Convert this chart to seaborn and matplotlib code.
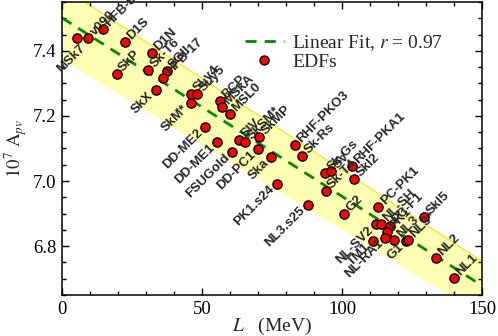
import numpy as np
import pandas as pd
import matplotlib
matplotlib.use("Agg")
import matplotlib.pyplot as plt
import seaborn as sns
from matplotlib.ticker import MultipleLocator
from matplotlib.lines import Line2D

# ---------------- data ----------------
names = ["MSk7", "v090", "HFB-8", "D1S", "D1N", "SkP", "Sk-T6", "SkX", "SGII", "HFB-17",
         "SLy4", "SLy5", "SkM*", "BCP", "MSkA", "MSL0", "DD-ME2", "DD-ME1", "SIV", "SkSM*",
         "SkMP", "FSUGold", "DD-PC1", "Ska", "RHF-PKO3", "Sk-Rs", "PK1.s24", "NL3.s25",
         "Sk-Gs", "SV", "RHF-PKA1", "SkI2", "Sk-T4", "G2", "PC-PK1", "NL-SV2", "NL-SH",
         "PC-F1", "PK1", "NL-RA1", "NL3", "TM1", "G1", "NL3*", "SkI5", "NL2", "NL1"]
L_vals = [5.25, 9.4, 14.75, 22.4, 32.0, 19.5, 30.8, 33.4, 37.4, 36.2,
          46.0, 48.3, 46.0, 56.4, 57.1, 60.0, 51.2, 55.5, 63.3, 65.5,
          70.4, 60.7, 70.0, 74.8, 83.1, 85.8, 76.8, 87.75,
          93.9, 96.2, 103.6, 104.4, 94.2, 100.7, 113.0, 112.1, 113.75,
          117.0, 116.0, 115.5, 118.7, 111.0, 122.9, 123.4, 129.4, 133.5, 140.0]
A_vals = [7.439, 7.440, 7.466, 7.426, 7.394, 7.328, 7.340, 7.281, 7.337, 7.318,
          7.268, 7.268, 7.240, 7.245, 7.228, 7.206, 7.167, 7.119, 7.126, 7.119,
          7.136, 7.089, 7.098, 7.075, 7.110, 7.077, 6.992, 6.926,
          7.026, 7.032, 7.047, 7.006, 6.970, 6.899, 6.919, 6.867, 6.867,
          6.863, 6.844, 6.826, 6.820, 6.816, 6.816, 6.818, 6.889, 6.763, 6.702]
# labels drawn to the lower-left of their point (others go upper-right)
lower_left = {"MSk7", "SkX", "SkM*", "DD-ME2", "DD-ME1", "FSUGold", "DD-PC1", "Ska",
              "PK1.s24", "NL3.s25", "NL-SV2", "TM1", "NL-RA1", "G1"}
# individual label offsets (points) where the default placement differs
label_offsets = {"MSk7": (5, -6)}
r_value = 0.97
band_L = [0, 150]
band_upper = [7.596, 6.753]
band_lower = [7.373, 6.589]
x_ticks = [0, 50, 100, 150]
y_ticks = [6.8, 7.0, 7.2, 7.4]

df = pd.DataFrame({"name": names, "L": L_vals, "A": A_vals})

# ---------------- style ----------------
sns.set_style("ticks")
plt.rcParams["font.family"] = ["Liberation Serif", "DejaVu Serif"]
plt.rcParams["mathtext.fontset"] = "stix"

GREEN = "#008c00"
DASH = [4.0, 2.9]

fig = plt.figure(figsize=(4.98, 3.36), dpi=100)
ax = fig.add_axes([62 / 498, 1 - 295 / 336, 420 / 498, 293 / 336])

# band
ax.fill_between(band_L, band_lower, band_upper, color="#ffffb4", lw=0, zorder=0)
ax.plot(band_L, band_upper, color="#f2e600", lw=0.8, zorder=0.5)

# linear fit
slope, icpt = np.polyfit(df["L"], df["A"], 1)
fit_x = np.array([0, 150])
fit_df = pd.DataFrame({"L": fit_x, "A": icpt + slope * fit_x})
sns.lineplot(data=fit_df, x="L", y="A", ax=ax, color=GREEN, lw=2.0,
             dashes=False, zorder=1)
ax.lines[-1].set_dashes(DASH)

# points
sns.scatterplot(data=df, x="L", y="A", ax=ax, s=44, color="#ff0000",
                edgecolor="black", linewidth=1.0, zorder=3)

for n, x, y in zip(names, L_vals, A_vals):
    if n in lower_left:
        off = label_offsets.get(n, (-3, -3))
        ax.annotate(n, (x, y), xytext=off, textcoords="offset points",
                    rotation=45, rotation_mode="anchor", ha="right", va="center",
                    fontsize=9.5, fontweight="bold", family="Liberation Sans", zorder=4)
    else:
        off = label_offsets.get(n, (3, 3))
        ax.annotate(n, (x, y), xytext=off, textcoords="offset points",
                    rotation=45, rotation_mode="anchor", ha="left", va="center",
                    fontsize=9.5, fontweight="bold", family="Liberation Sans", zorder=4)

ax.set_xlim(0, 150)
ax.set_ylim(6.65, 7.55)
ax.set_xticks(x_ticks)
ax.set_yticks(y_ticks)
ax.set_xticklabels([str(v) for v in x_ticks])
ax.set_yticklabels([f"{v:.1f}" for v in y_ticks])
ax.xaxis.set_minor_locator(MultipleLocator(10))
ax.yaxis.set_minor_locator(MultipleLocator(0.05))
ax.tick_params(which="both", direction="in", top=True, right=True, width=1.0,
               labelsize=13.5, colors="black")
ax.tick_params(which="major", length=5, pad=4)
ax.tick_params(which="minor", length=3)
for sp in ax.spines.values():
    sp.set_linewidth(1.1)
    sp.set_color("black")

ax.set_xlabel(r"$L$   (MeV)", fontsize=14, labelpad=-1)
ax.set_ylabel(r"$10^7\ \mathrm{A}_{pv}$", fontsize=13.5, labelpad=3)

handles = [Line2D([], [], color=GREEN, lw=2.0, dashes=DASH),
           Line2D([], [], marker="o", ls="", markerfacecolor="#ff0000",
                  markeredgecolor="black", markersize=6.5)]
ax.legend(handles, [rf"Linear Fit, $r$ = {r_value:.2f}", "EDFs"],
          loc="upper left", frameon=False, fontsize=14, handlelength=2.0,
          handletextpad=0.45, labelspacing=0.05, borderaxespad=0, borderpad=0,
          bbox_to_anchor=(0.435, 0.895))

fig.savefig("out.png", dpi=100)
